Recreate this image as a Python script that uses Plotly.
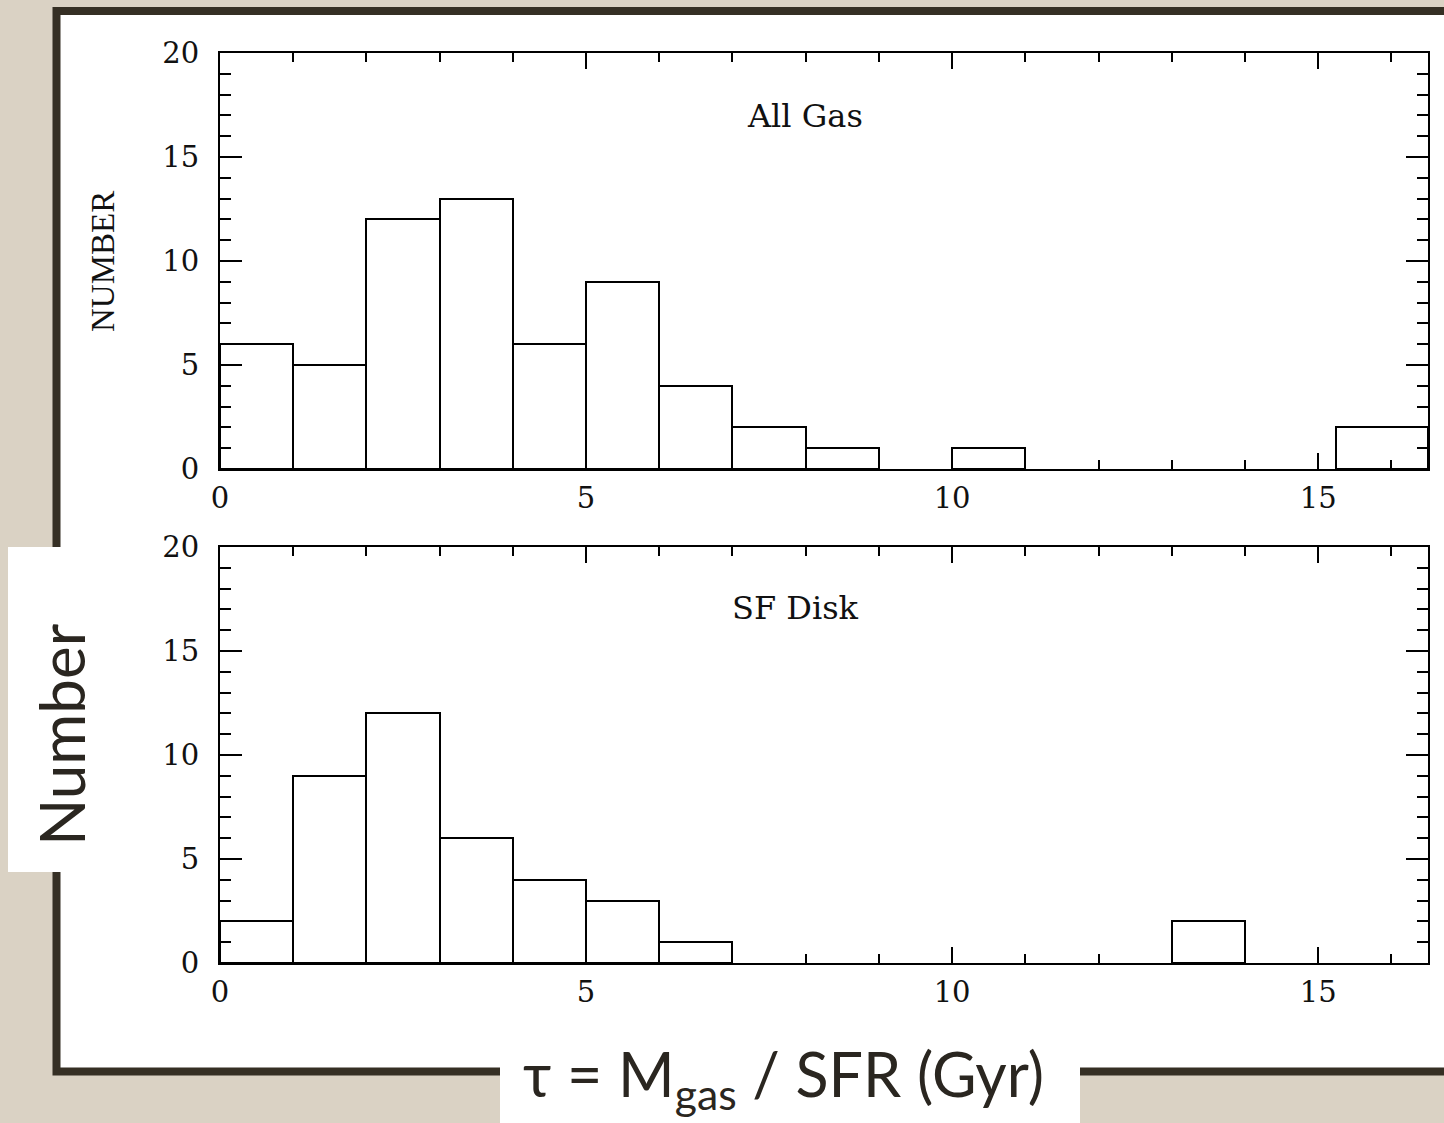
import plotly.graph_objects as go

W, H = 1444, 1123

# ---- data ----
top_bin_left = [0, 1, 2, 3, 4, 5, 6, 7, 8, 10, 15.25]
top_bin_width = [1, 1, 1, 1, 1, 1, 1, 1, 1, 1, 1.25]
top_counts = [6, 5, 12, 13, 6, 9, 4, 2, 1, 1, 2]

bot_bin_left = [0, 1, 2, 3, 4, 5, 6, 13]
bot_bin_width = [1, 1, 1, 1, 1, 1, 1, 1]
bot_counts = [2, 9, 12, 6, 4, 3, 1, 2]

x_ticks = [0, 5, 10, 15]
y_ticks = [0, 5, 10, 15, 20]

BG = "#dad2c4"
FRAME = "#352f24"


def px(x):
    return x / W


def py(y):
    return 1 - y / H


fig = go.Figure()

bar_style = dict(marker=dict(color="white", line=dict(color="black", width=2)),
                 offset=0, showlegend=False, hoverinfo="skip")
fig.add_trace(go.Bar(x=top_bin_left, y=top_counts, width=top_bin_width,
                     xaxis="x", yaxis="y", **bar_style))
fig.add_trace(go.Bar(x=bot_bin_left, y=bot_counts, width=bot_bin_width,
                     xaxis="x2", yaxis="y2", **bar_style))

serif = "DejaVu Serif, Liberation Serif, serif"
sans = "Lato, Open Sans, Liberation Sans, sans-serif"
tickfont = dict(family=serif, size=29, color="#111")


def xaxis(anchor):
    return dict(domain=[px(220), px(1428)], range=[0, 16.5], anchor=anchor,
                tickvals=x_ticks, ticks="inside", ticklen=16, tickwidth=1.5,
                tickcolor="black", showline=True, linecolor="black", linewidth=2,
                mirror="ticks", showgrid=False, zeroline=False, tickfont=tickfont,
                automargin=False, ticklabelstandoff=2,
                minor=dict(dtick=1, ticks="inside", ticklen=9, tickwidth=1.5,
                           tickcolor="black", showgrid=False))


def yaxis(anchor, dom):
    return dict(domain=dom, range=[0, 20], anchor=anchor,
                tickvals=y_ticks, ticks="inside", ticklen=22, tickwidth=1.5,
                tickcolor="black", showline=True, linecolor="black", linewidth=2,
                mirror="ticks", showgrid=False, zeroline=False, tickfont=tickfont,
                automargin=False, ticklabelstandoff=13,
                minor=dict(dtick=1, ticks="inside", ticklen=11, tickwidth=1.5,
                           tickcolor="black", showgrid=False))


fig.update_layout(
    width=W, height=H,
    autosize=False,
    margin=dict(l=0, r=0, t=0, b=0, pad=0),
    paper_bgcolor=BG,
    plot_bgcolor="rgba(0,0,0,0)",
    bargap=0,
    xaxis=xaxis("y"),
    yaxis=yaxis("x", [py(469), py(53)]),
    xaxis2=xaxis("y2"),
    yaxis2=yaxis("x2", [py(963), py(547)]),
)

shapes = [
    # slide frame with white interior
    dict(type="rect", xref="paper", yref="paper", layer="below",
         x0=px(56.5), x1=px(1460), y0=py(11), y1=py(1071.5),
         line=dict(color=FRAME, width=8), fillcolor="white"),
    # white overlay boxes
    dict(type="rect", xref="paper", yref="paper", layer="above",
         x0=px(8), x1=px(62), y0=py(872), y1=py(547),
         line=dict(width=0), fillcolor="white"),
    dict(type="rect", xref="paper", yref="paper", layer="above",
         x0=px(500), x1=px(1080), y0=py(1130), y1=py(1061),
         line=dict(width=0), fillcolor="white"),
]
fig.update_layout(shapes=shapes)

common = dict(xref="paper", yref="paper", xanchor="center", yanchor="middle",
              showarrow=False)
annotations = [
    dict(text="All Gas", x=px(805), y=py(116),
         font=dict(family=serif, size=32, color="#111"), **common),
    dict(text="SF Disk", x=px(796), y=py(608),
         font=dict(family=serif, size=32, color="#111"), **common),
    dict(text="NUMBER", x=px(103), y=py(262), textangle=-90,
         font=dict(family="Liberation Serif, serif", size=33, color="#111"), **common),
    dict(text="Number", x=px(61), y=py(735), textangle=-90,
         font=dict(family=sans, size=62, color="#2a2620"), **common),
    dict(text="τ = M<sub>gas</sub> / SFR (Gyr)", x=px(783), y=py(1078),
         font=dict(family=sans, size=61, color="#2a2620"), **common),
]
fig.update_layout(annotations=annotations)

fig.write_html(
    "out.html",
    config={"displayModeBar": False},
    post_script="document.body.style.margin='0';document.body.style.background='%s';" % BG,
)
